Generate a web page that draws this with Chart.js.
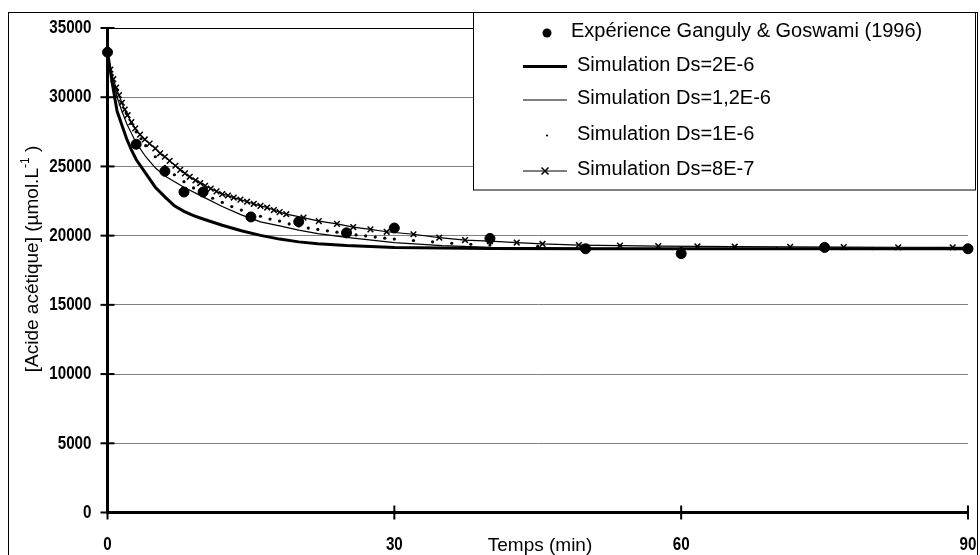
<!DOCTYPE html>
<html>
<head>
<meta charset="utf-8">
<script src="https://cdn.jsdelivr.net/npm/chart.js@4.4.1/dist/chart.umd.min.js"></script>
<style>
  html, body { margin: 0; padding: 0; background: #fff; }
  #wrap { width: 980px; height: 555px; }
</style>
</head>
<body>
<div id="wrap"><canvas id="chart" width="980" height="555"></canvas></div>
<script>
// measured points (Ganguly & Goswami 1996)
const expTime = [0, 3, 6, 8, 10, 15, 20, 25, 30, 40, 50, 60, 75, 90];
const expConc = [33250, 26600, 24650, 23150, 23150, 21350, 21000, 20200, 20550, 19800, 19050, 18700, 19150, 19050];

// simulation Ds=2E-6
const simATime = [0, 0.5, 1, 1.5, 2, 2.5, 3, 4, 5, 6, 7, 8, 9, 10, 12, 14, 16, 18, 20, 22, 25, 30, 35, 40, 50, 60, 75, 90];
const simAConc = [33250, 31000, 29000, 28000, 27000, 26200, 25500, 24500, 23500, 22800, 22150, 21750, 21450, 21200, 20750, 20350, 20020, 19750, 19550, 19420, 19280, 19150, 19100, 19070, 19050, 19050, 19050, 19050];

// simulation Ds=1,2E-6
const simBTime = [0, 0.5, 1, 1.5, 2, 3, 4, 5, 6, 8, 10, 12, 14, 16, 18, 20, 22, 25, 30, 35, 40, 50, 60, 75, 90];
const simBConc = [33250, 31300, 30000, 29000, 28100, 26700, 25700, 24900, 24300, 23500, 22800, 22100, 21500, 21000, 20700, 20400, 20150, 19870, 19500, 19280, 19150, 19080, 19060, 19050, 19050];

// simulation Ds=1E-6 (dots)
const simCTime = [0.5, 1, 1.5, 2, 2.5, 3, 3.5, 4, 5, 6, 7, 8, 9, 10, 11, 12, 13, 14, 15, 16, 17, 18, 19, 20, 21, 22, 23, 24, 25, 26, 27, 28, 29, 30, 32, 34, 36, 38, 40, 45, 50, 60, 70, 80, 90];
const simCConc = [31600, 30500, 29600, 28800, 28100, 27500, 27000, 26500, 25700, 25000, 24400, 23900, 23450, 23050, 22700, 22400, 22100, 21850, 21600, 21400, 21200, 21050, 20850, 20700, 20550, 20450, 20350, 20250, 20150, 20050, 19980, 19900, 19820, 19750, 19650, 19550, 19450, 19380, 19320, 19220, 19150, 19100, 19070, 19060, 19050];

// simulation Ds=8E-7 (crosses)
const simDTime = [0, 0.3, 0.6, 0.9, 1.2, 1.5, 1.8, 2.1, 2.5, 2.9, 3.4, 3.9, 4.4, 5.0, 5.5, 6.0, 6.5, 7.1, 7.6, 8.1, 8.6, 9.2, 9.7, 10.2, 10.8, 11.4, 12.0, 12.6, 13.2, 13.9, 14.6, 15.3, 16.0, 16.7, 17.4, 18.0, 18.7, 20.5, 22.1, 24.0, 25.7, 27.5, 29.2, 32.0, 34.7, 37.4, 40.0, 42.8, 45.5, 49.3, 53.6, 57.6, 61.7, 65.6, 71.4, 77.0, 82.7, 88.4, 90];
const simDConc = [33250, 32000, 31300, 30700, 30150, 29600, 29100, 28700, 28200, 27750, 27300, 26950, 26650, 26300, 25950, 25700, 25400, 25050, 24750, 24500, 24250, 24000, 23800, 23600, 23400, 23200, 23000, 22900, 22750, 22600, 22450, 22300, 22150, 22030, 21850, 21700, 21550, 21300, 21050, 20850, 20620, 20450, 20280, 20100, 19850, 19680, 19600, 19500, 19400, 19320, 19280, 19240, 19220, 19200, 19190, 19170, 19160, 19150, 19150];

const seriesLabels = [
    "Expérience Ganguly & Goswami (1996)",
    "Simulation Ds=2E-6",
    "Simulation Ds=1,2E-6",
    "Simulation Ds=1E-6",
    "Simulation Ds=8E-7"
];

const xTicks = [0, 30, 60, 90];
const yTickStep = 5000;
const xTitle = "Temps (min)";
const yTitle = "[Acide acétique] (µmol.L";
const yTitleSup = "-1";

function pairs(t, c) {
    return t.map((v, i) => ({ x: v, y: c[i] }));
}

const tickFont = 'bold 19px "Liberation Sans", Arial, sans-serif';

// narrow bold labels like the original (no condensed font installed)
function narrowText(ctx, text, x, y, align) {
    ctx.save();
    ctx.translate(x, y);
    ctx.scale(0.8, 1);
    ctx.font = tickFont;
    ctx.textAlign = align;
    ctx.textBaseline = "middle";
    ctx.fillText(text, 0, 0);
    ctx.restore();
}

// frame, crossing ticks, labels, axis titles and the boxed legend
const decorPlugin = {
    id: "decor",
    beforeDraw(chart) {
        const ctx = chart.ctx;
        ctx.save();
        ctx.fillStyle = "#fff";
        ctx.fillRect(0, 0, chart.width, chart.height);
        ctx.strokeStyle = "#000";
        ctx.lineWidth = 1;
        ctx.strokeRect(8.5, 12.5, 969, 560);
        ctx.restore();
    },
    afterDraw(chart) {
        const ctx = chart.ctx;
        const xs = chart.scales.x;
        const ys = chart.scales.y;
        const area = chart.chartArea;

        ctx.save();
        ctx.strokeStyle = "#000";
        ctx.fillStyle = "#000";
        ctx.lineWidth = 2;
        ys.ticks.forEach(t => {
            const py = ys.getPixelForValue(t.value);
            ctx.beginPath();
            ctx.moveTo(area.left - 7, py);
            ctx.lineTo(area.left + 7, py);
            ctx.stroke();
            narrowText(ctx, String(t.value), area.left - 16, py, "right");
        });
        xs.ticks.forEach(t => {
            const px = xs.getPixelForValue(t.value);
            ctx.beginPath();
            ctx.moveTo(px, area.bottom - 7);
            ctx.lineTo(px, area.bottom + 7);
            ctx.stroke();
            narrowText(ctx, String(t.value), px, 545, "center");
        });

        // x title sits on the tick label row
        ctx.font = '19px "Liberation Sans", Arial, sans-serif';
        ctx.textAlign = "center";
        ctx.textBaseline = "middle";
        ctx.fillText(xTitle, 540, 546);

        // y title, rotated, with superscript
        ctx.save();
        ctx.translate(33, 259);
        ctx.rotate(-Math.PI / 2);
        const mainFont = '19px "Liberation Sans", Arial, sans-serif';
        const supFont = '12px "Liberation Sans", Arial, sans-serif';
        ctx.font = mainFont;
        const w1 = ctx.measureText(yTitle).width;
        const w3 = ctx.measureText(" )").width;
        ctx.font = supFont;
        const w2 = ctx.measureText(yTitleSup).width;
        const x0 = -(w1 + w2 + w3) / 2;
        ctx.textAlign = "left";
        ctx.textBaseline = "middle";
        ctx.font = mainFont;
        ctx.fillText(yTitle, x0, 0);
        ctx.font = supFont;
        ctx.fillText(yTitleSup, x0 + w1, -7);
        ctx.font = mainFont;
        ctx.fillText(" )", x0 + w1 + w2, 0);
        ctx.restore();

        // legend box
        ctx.fillStyle = "#fff";
        ctx.fillRect(473.5, 12.5, 502, 177.5);
        ctx.strokeStyle = "#000";
        ctx.lineWidth = 1;
        ctx.strokeRect(473.5, 12.5, 502, 177.5);

        const rows = [33, 66.5, 100, 135.5, 171];
        ctx.font = '20px "Liberation Sans", Arial, sans-serif';
        ctx.textAlign = "left";
        ctx.textBaseline = "middle";
        chart.data.datasets.forEach((ds, i) => {
            const y = rows[i];
            ctx.strokeStyle = "#000";
            ctx.fillStyle = "#000";
            if (ds.showLine) {
                ctx.lineWidth = ds.borderWidth;
                ctx.beginPath();
                ctx.moveTo(523, y);
                ctx.lineTo(567, y);
                ctx.stroke();
            }
            if (ds.pointRadius > 0) {
                if (ds.pointStyle === "crossRot") {
                    const r = 3.5;
                    ctx.lineWidth = 1.5;
                    ctx.beginPath();
                    ctx.moveTo(545 - r, y - r); ctx.lineTo(545 + r, y + r);
                    ctx.moveTo(545 - r, y + r); ctx.lineTo(545 + r, y - r);
                    ctx.stroke();
                } else {
                    ctx.beginPath();
                    ctx.arc(547, y, ds.pointRadius - 0.5, 0, Math.PI * 2);
                    ctx.fill();
                }
            }
            ctx.fillText(ds.label, i === 0 ? 571 : 577, y - 1.5);
        });
        ctx.restore();
    }
};

new Chart(document.getElementById("chart"), {
    type: "scatter",
    data: {
        datasets: [
            {
                label: seriesLabels[0],
                data: pairs(expTime, expConc),
                showLine: false,
                pointStyle: "circle",
                pointRadius: 5,
                backgroundColor: "#000",
                borderColor: "#000",
                clip: false
            },
            {
                label: seriesLabels[1],
                data: pairs(simATime, simAConc),
                showLine: true,
                borderColor: "#000",
                borderWidth: 3,
                pointRadius: 0
            },
            {
                label: seriesLabels[2],
                data: pairs(simBTime, simBConc),
                showLine: true,
                borderColor: "#000",
                borderWidth: 1.2,
                pointRadius: 0
            },
            {
                label: seriesLabels[3],
                data: pairs(simCTime, simCConc),
                showLine: false,
                pointStyle: "circle",
                pointRadius: 1.6,
                backgroundColor: "#000",
                borderColor: "#000",
                borderWidth: 0
            },
            {
                label: seriesLabels[4],
                data: pairs(simDTime, simDConc),
                showLine: true,
                borderColor: "#000",
                borderWidth: 1.2,
                pointStyle: "crossRot",
                pointRadius: 4,
                pointBorderWidth: 1.5,
                pointBorderColor: "#000"
            }
        ]
    },
    options: {
        responsive: false,
        animation: false,
        devicePixelRatio: 1,
        layout: { padding: { left: 7.5, right: 12, top: 28, bottom: 0 } },
        plugins: {
            legend: { display: false },
            tooltip: { enabled: false }
        },
        scales: {
            x: {
                type: "linear",
                min: 0,
                max: 90,
                afterBuildTicks: scale => { scale.ticks = xTicks.map(v => ({ value: v })); },
                afterFit: scale => {
                    scale.height = 42.5;
                    scale.paddingLeft = 0;
                    scale.paddingRight = 0;
                },
                ticks: { display: false },
                grid: { drawOnChartArea: false, drawTicks: false },
                border: { color: "#000", width: 3 }
            },
            y: {
                min: 0,
                max: 35000,
                afterFit: scale => {
                    scale.width = 100;
                    scale.paddingTop = 0;
                    scale.paddingBottom = 0;
                },
                ticks: { stepSize: yTickStep, display: false },
                grid: {
                    drawTicks: false,
                    color: c => (c.tick && c.tick.value === 35000 ? "#000" : "#808080"),
                    lineWidth: 1
                },
                border: { color: "#000", width: 3 }
            }
        }
    },
    plugins: [decorPlugin]
});
</script>
</body>
</html>
